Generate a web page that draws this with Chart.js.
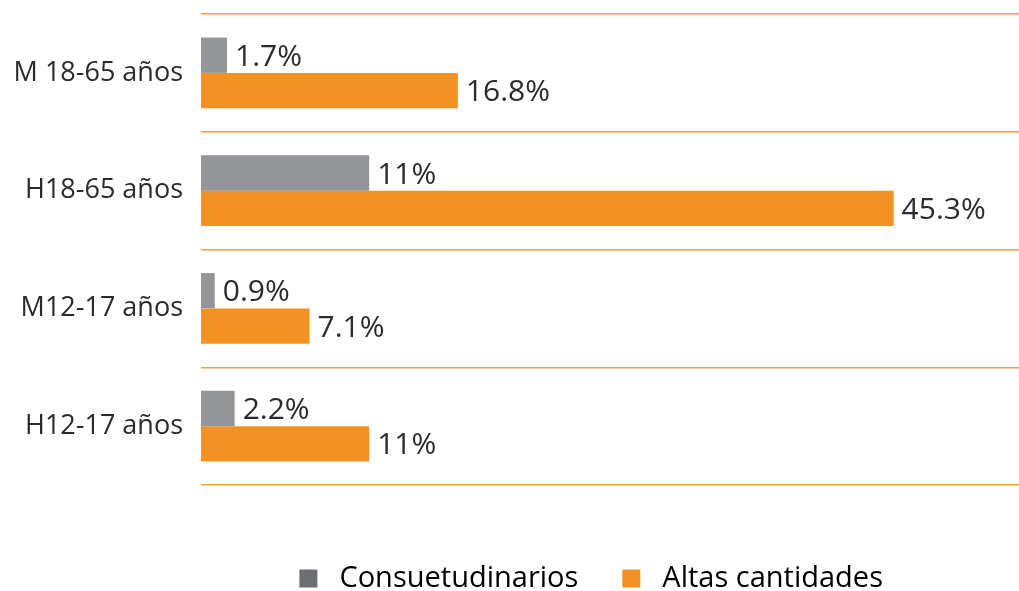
<!DOCTYPE html>
<html>
<head>
<meta charset="utf-8">
<script src="https://cdn.jsdelivr.net/npm/chart.js@4"></script>
<style>
    html, body { margin: 0; padding: 0; background: #fff; }
    #wrap { width: 1019px; height: 591px; }
</style>
</head>
<body>
<div id="wrap"><canvas id="grafico"></canvas></div>
<script>
    const categorias = ['M 18-65 años', 'H18-65 años', 'M12-17 años', 'H12-17 años'];
    const consuetudinarios = [1.7, 11, 0.9, 2.2];
    const altasCantidades = [16.8, 45.3, 7.1, 11];
    const nombresSeries = ['Consuetudinarios', 'Altas cantidades'];

    const gris = '#939598';
    const grisLeyenda = '#6d6e71';
    const naranja = '#F39222';
    const texto = '#2b2b2b';
    const fuente = '"Open Sans", sans-serif';

    // etiquetas de valor al final de cada barra
    const etiquetas = {
        id: 'etiquetas',
        afterDatasetsDraw(chart) {
            const ctx = chart.ctx;
            ctx.save();
            ctx.font = '30px ' + fuente;
            ctx.fillStyle = texto;
            ctx.textAlign = 'left';
            ctx.textBaseline = 'middle';
            chart.data.datasets.forEach(function (ds, i) {
                chart.getDatasetMeta(i).data.forEach(function (bar, j) {
                    ctx.fillText(ds.data[j] + '%', bar.x + 8, bar.y + 2);
                });
            });
            ctx.restore();
        }
    };

    new Chart(document.getElementById('grafico'), {
        type: 'bar',
        data: {
            labels: categorias,
            datasets: [
                { label: nombresSeries[0], data: consuetudinarios, backgroundColor: gris },
                { label: nombresSeries[1], data: altasCantidades, backgroundColor: naranja }
            ]
        },
        options: {
            indexAxis: 'y',
            responsive: true,
            maintainAspectRatio: false,
            animation: false,
            layout: { padding: { top: 14, right: 0, left: 0, bottom: -12 } },
            datasets: {
                bar: { barPercentage: 1, categoryPercentage: 0.6, borderWidth: 0 }
            },
            scales: {
                x: {
                    min: 0,
                    max: 53.5,
                    ticks: { display: false },
                    grid: { display: false },
                    border: { display: false },
                    afterFit: function (scale) { scale.height = 35; }
                },
                y: {
                    grid: { color: '#F5A040', lineWidth: 1.5, offset: true, drawTicks: false },
                    border: { display: false },
                    ticks: {
                        color: texto,
                        padding: 18,
                        font: { family: fuente, size: 27 }
                    },
                    afterFit: function (scale) {
                        scale.width = 201;
                        scale.paddingTop = 0;
                        scale.paddingBottom = 0;
                    }
                }
            },
            plugins: {
                tooltip: { enabled: false },
                legend: {
                    position: 'bottom',
                    fullSize: false,
                    labels: {
                        boxWidth: 18,
                        boxHeight: 18,
                        padding: 44,
                        color: texto,
                        font: { family: fuente, size: 29 },
                        generateLabels: function (chart) {
                            return nombresSeries.map(function (n, i) {
                                return {
                                    // espacios finales para correr la leyenda a la izquierda
                                    text: ' ' + n + (i === 1 ? '     ' : ''),
                                    fillStyle: i === 0 ? grisLeyenda : naranja,
                                    strokeStyle: 'transparent',
                                    lineWidth: 0,
                                    datasetIndex: i,
                                    hidden: false
                                };
                            });
                        }
                    }
                }
            }
        },
        plugins: [etiquetas]
    });
</script>
</body>
</html>
